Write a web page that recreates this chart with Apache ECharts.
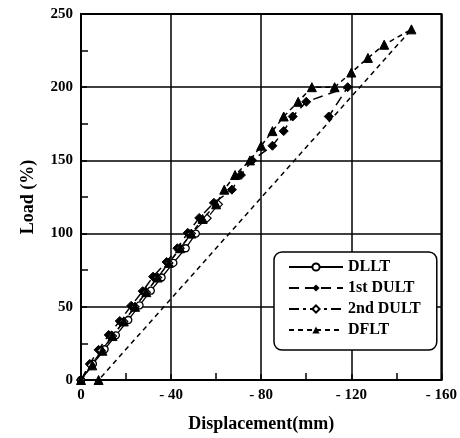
<!DOCTYPE html>
<html>
<head>
<meta charset="utf-8">
<script src="https://cdn.jsdelivr.net/npm/echarts@6/dist/echarts.min.js"></script>
<style>
    html, body { margin: 0; padding: 0; background: #fff; }
    #main { width: 460px; height: 438px; }
</style>
</head>
<body>
<div id="main"></div>
<script>
// 荷载-位移数据 (位移为负值, mm; 荷载 %)
var dlltDisp = [0, -5.3, -10.5, -15.5, -21, -26, -31, -35.8, -41, -46.5, -51];
var dlltLoad = [0, 11, 21, 30.5, 41, 51, 61, 70, 80, 90, 100];

var dult1Disp = [0, -3.9, -7.8, -12.3, -17.2, -22.3, -27.4, -32, -38, -42.8, -47.4, -52.5, -59, -67, -71, -76, -85, -90, -94, -100, -118.4, -110];
var dult1Load = [0, 11, 20.6, 30.8, 40.3, 50.7, 60.7, 70.6, 80.6, 90, 100.5, 110.7, 121, 130, 140, 150, 160, 170, 180, 190, 200, 180];

var dult2Disp = [0, -4.5, -9, -14, -19, -24, -29, -34, -39, -44, -49, -56, -61];
var dult2Load = [0, 10, 20, 30, 40, 50, 60, 70, 80, 90, 100, 110.5, 120];

var dfltDisp = [0, -5, -9.5, -14, -19, -24, -29, -34, -39, -44, -49, -54, -60, -63.6, -68.4, -75, -80, -85, -90, -96.4, -102.5, -112.6, -120, -127.4, -134.6, -146.7, -7.8];
var dfltLoad = [0, 10, 20, 30, 40, 50, 60, 70, 80, 90, 100, 110, 120, 130, 140, 150, 160, 170, 180, 190, 200, 200, 210, 220, 229, 239.5, 0];

var xTicks = [0, -40, -80, -120, -160];
var yTicks = [0, 50, 100, 150, 200, 250];

var font = 'Liberation Serif';

function pairs(xs, ys) {
    var out = [];
    for (var i = 0; i < xs.length; i++) {
        out.push([xs[i], ys[i]]);
    }
    return out;
}

var myChart = echarts.init(document.getElementById('main'));
var option = {
    backgroundColor: '#fff',
    animation: false,
    grid: {
        left: 81,
        top: 14,
        width: 368,
        height: 368,
        show: true,
        borderColor: '#000',
        borderWidth: 2
    },
    legend: {
        orient: 'vertical',
        left: 274,
        top: 252,
        width: 163,
        padding: [7, 16, 12, 14],
        itemGap: 5,
        itemWidth: 54,
        itemHeight: 9,
        borderColor: '#000',
        borderWidth: 1.5,
        borderRadius: 8,
        backgroundColor: '#fff',
        textStyle: { fontFamily: font, fontWeight: 'bold', fontSize: 16, color: '#000' },
        data: ['DLLT', '1st DULT', '2nd DULT', 'DFLT']
    },
    xAxis: {
        type: 'value',
        min: xTicks[4],
        max: xTicks[0],
        interval: 40,
        inverse: true,
        name: 'Displacement(mm)',
        nameLocation: 'middle',
        nameGap: 35,
        nameTextStyle: { fontFamily: font, fontWeight: 'bold', fontSize: 18, color: '#000' },
        axisLine: { lineStyle: { color: '#000', width: 2 } },
        axisTick: { show: true, inside: true, length: 6, lineStyle: { color: '#000', width: 1.5 } },
        minorTick: { show: true, splitNumber: 2, length: 7, lineStyle: { color: '#000', width: 1.5 } },
        splitLine: { show: true, lineStyle: { color: '#000', width: 1.5 } },
        axisLabel: {
            margin: 8,
            fontFamily: font, fontWeight: 'bold', fontSize: 15, color: '#000',
            formatter: function (v) { return v === 0 ? '0' : '- ' + (-v); }
        }
    },
    yAxis: {
        type: 'value',
        min: yTicks[0],
        max: yTicks[5],
        interval: 50,
        name: 'Load (%)',
        nameLocation: 'middle',
        nameGap: 44,
        nameRotate: 90,
        nameTextStyle: { fontFamily: font, fontWeight: 'bold', fontSize: 18, color: '#000' },
        axisLine: { lineStyle: { color: '#000', width: 2 } },
        axisTick: { show: true, inside: true, length: 6, lineStyle: { color: '#000', width: 1.5 } },
        minorTick: { show: true, splitNumber: 2, length: 7, lineStyle: { color: '#000', width: 1.5 } },
        splitLine: { show: true, lineStyle: { color: '#000', width: 1.5 } },
        axisLabel: { margin: 8, fontFamily: font, fontWeight: 'bold', fontSize: 15, color: '#000' }
    },
    series: [{
        name: 'DLLT',
        type: 'line',
        data: pairs(dlltDisp, dlltLoad),
        symbol: 'circle',
        symbolSize: 7,
        lineStyle: { color: '#000', width: 1.3, type: 'solid' },
        itemStyle: { color: '#fff', borderColor: '#000', borderWidth: 1.3 }
    }, {
        name: '1st DULT',
        type: 'line',
        data: pairs(dult1Disp, dult1Load),
        symbol: 'diamond',
        symbolSize: 9,
        lineStyle: { color: '#000', width: 1.5, type: [10, 6] },
        itemStyle: { color: '#000', borderColor: '#000' }
    }, {
        name: '2nd DULT',
        type: 'line',
        data: pairs(dult2Disp, dult2Load),
        symbol: 'diamond',
        symbolSize: 8,
        lineStyle: { color: '#000', width: 1.2, type: [10, 4, 3, 4] },
        itemStyle: { color: '#fff', borderColor: '#000', borderWidth: 1.2 }
    }, {
        name: 'DFLT',
        type: 'line',
        data: pairs(dfltDisp, dfltLoad),
        symbol: 'triangle',
        symbolSize: 9,
        lineStyle: { color: '#000', width: 1.5, type: [5, 4] },
        itemStyle: { color: '#000', borderColor: '#000' }
    }]
};
myChart.setOption(option);
</script>
</body>
</html>
